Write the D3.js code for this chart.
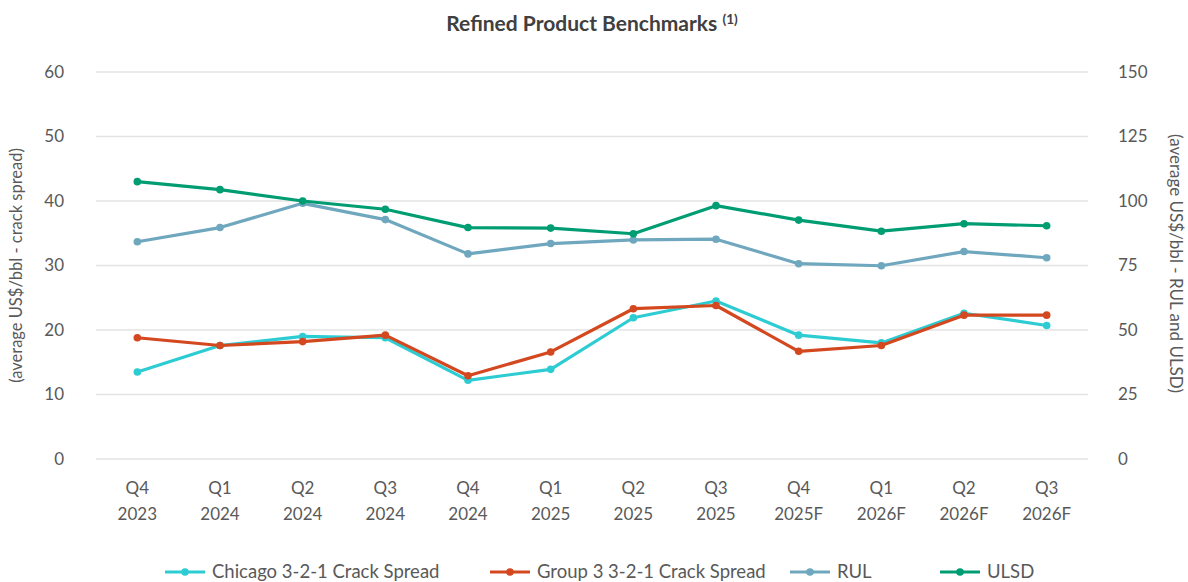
<!DOCTYPE html>
<html>
<head>
<meta charset="utf-8">
<script src="https://cdn.jsdelivr.net/npm/d3@7"></script>
<style>
  body { margin: 0; background: #fff; }
  svg text { font-family: Lato, "Open Sans", sans-serif; }
</style>
</head>
<body>
<svg id="chart" width="1188" height="582"></svg>
<script>
// categories (two-line labels)
const quarters = ["Q4", "Q1", "Q2", "Q3", "Q4", "Q1", "Q2", "Q3", "Q4", "Q1", "Q2", "Q3"]
const years = ["2023", "2024", "2024", "2024", "2024", "2025", "2025", "2025", "2025F", "2026F", "2026F", "2026F"]

// left axis series (crack spreads)
const chicago = [13.5, 17.6, 19.0, 18.8, 12.2, 13.9, 21.9, 24.5, 19.2, 18.0, 22.6, 20.7]
const group3 = [18.8, 17.6, 18.2, 19.2, 12.9, 16.6, 23.3, 23.8, 16.7, 17.6, 22.3, 22.3]

// right axis series
const rul = [84.2, 89.7, 99.1, 92.8, 79.5, 83.5, 84.9, 85.2, 75.7, 74.9, 80.4, 78.0]
const ulsd = [107.5, 104.4, 100.0, 96.8, 89.7, 89.5, 87.3, 98.2, 92.6, 88.3, 91.2, 90.4]

const leftTicks = [0, 10, 20, 30, 40, 50, 60]
const rightTicks = [0, 25, 50, 75, 100, 125, 150]

const series = [
  {name: "Chicago 3-2-1 Crack Spread", values: chicago, axis: "left", color: "#2dccd3"},
  {name: "Group 3 3-2-1 Crack Spread", values: group3, axis: "left", color: "#d3481f"},
  {name: "RUL", values: rul, axis: "right", color: "#6ea7be"},
  {name: "ULSD", values: ulsd, axis: "right", color: "#009d72"}
]

const svg = d3.select("#chart")
const plotL = 96, plotR = 1088, plotT = 72, plotB = 459

const x = d3.scaleBand()
  .domain(d3.range(quarters.length))
  .range([plotL, plotR])
const yL = d3.scaleLinear().domain([0, 60]).range([plotB, plotT])
const yR = d3.scaleLinear().domain([0, 150]).range([plotB, plotT])
const cx = i => x(i) + x.bandwidth() / 2

// gridlines
svg.append("g")
  .selectAll("line")
  .data(leftTicks).enter()
  .append("line")
  .attr("x1", plotL).attr("x2", plotR)
  .attr("y1", d => yL(d)).attr("y2", d => yL(d))
  .attr("stroke", "#e3e3e3")
  .attr("stroke-width", 1.3)

// left axis
const axL = svg.append("g")
  .attr("transform", `translate(${plotL - 32},0)`)
  .call(d3.axisLeft(yL).tickValues(leftTicks).tickSize(0).tickPadding(0))
axL.select(".domain").remove()
axL.selectAll("text").attr("font-size", 17).attr("fill", "#595959").attr("font-family", "Lato, sans-serif")

// right axis
const axR = svg.append("g")
  .attr("transform", `translate(${plotR + 30},0)`)
  .call(d3.axisRight(yR).tickValues(rightTicks).tickSize(0).tickPadding(0))
axR.select(".domain").remove()
axR.selectAll("text").attr("font-size", 17).attr("fill", "#595959").attr("font-family", "Lato, sans-serif")

// x labels
const xl = svg.append("g")
  .selectAll("text")
  .data(quarters).enter()
  .append("text")
  .attr("x", (d, i) => cx(i))
  .attr("y", 494)
  .attr("text-anchor", "middle")
  .attr("font-size", 17)
  .attr("fill", "#595959")
xl.append("tspan").attr("x", (d, i) => cx(i)).text(d => d)
xl.append("tspan").attr("x", (d, i) => cx(i)).attr("dy", 26).text((d, i) => years[i])

// axis titles
svg.append("text")
  .attr("transform", `translate(22, ${(plotT + plotB) / 2}) rotate(-90)`)
  .attr("text-anchor", "middle")
  .attr("font-size", 16.5)
  .attr("fill", "#595959")
  .text("(average US$/bbl - crack spread)")
svg.append("text")
  .attr("transform", `translate(1170, ${(plotT + plotB) / 2 - 2}) rotate(90)`)
  .attr("text-anchor", "middle")
  .attr("font-size", 17)
  .attr("fill", "#595959")
  .text("(average US$/bbl - RUL and ULSD)")

// title
const title = svg.append("text")
  .attr("x", 592).attr("y", 31)
  .attr("text-anchor", "middle")
  .attr("font-size", 21)
  .attr("font-weight", "bold")
  .attr("fill", "#404040")
title.append("tspan").text("Refined Product Benchmarks ")
title.append("tspan").attr("font-size", 13.5).attr("dy", -7).text("(1)")

// lines
const drawOrder = [2, 3, 0, 1]
drawOrder.forEach(k => {
  const s = series[k]
  const y = s.axis == "left" ? yL : yR
  const line = d3.line()
    .x((d, i) => cx(i))
    .y(d => y(d))
  svg.append("path")
    .datum(s.values)
    .attr("d", line)
    .attr("fill", "none")
    .attr("stroke", s.color)
    .attr("stroke-width", 3.2)
    .attr("stroke-linejoin", "round")
  svg.append("g")
    .selectAll("circle")
    .data(s.values).enter()
    .append("circle")
    .attr("cx", (d, i) => cx(i))
    .attr("cy", d => y(d))
    .attr("r", 3.8)
    .attr("fill", s.color)
})

// legend
const legendX = [165, 490, 790, 940]
const legend = svg.append("g")
  .selectAll("g")
  .data(series).enter()
  .append("g")
  .attr("transform", (d, i) => `translate(${legendX[i]}, 572)`)
legend.append("line")
  .attr("x1", 0).attr("x2", 40)
  .attr("stroke", d => d.color)
  .attr("stroke-width", 3.2)
legend.append("circle")
  .attr("cx", 20).attr("r", 3.8)
  .attr("fill", d => d.color)
legend.append("text")
  .attr("x", 47).attr("dy", "0.35em")
  .attr("font-size", 18.5)
  .attr("fill", "#595959")
  .text(d => d.name)
</script>
</body>
</html>
